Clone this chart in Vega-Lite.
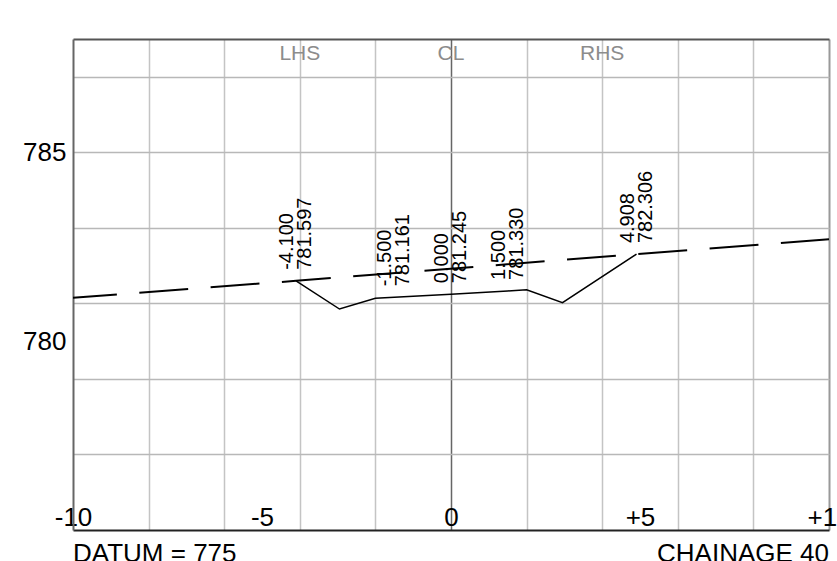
{
  "$schema": "https://vega.github.io/schema/vega-lite/v6.json",
  "width": 756,
  "height": 491,
  "autosize": {"type": "none"},
  "padding": {"left": 73, "top": 39, "right": 8, "bottom": 31},
  "background": "white",
  "config": {"font": "Liberation Sans", "view": {"stroke": null}},
  "datasets": {
    "design": [
      {"x": -4.1, "y": 781.597},
      {"x": -2.95, "y": 780.85},
      {"x": -2.0, "y": 781.133},
      {"x": -1.5, "y": 781.161},
      {"x": 0.0, "y": 781.245},
      {"x": 1.5, "y": 781.33},
      {"x": 2.0, "y": 781.358},
      {"x": 2.95, "y": 781.02},
      {"x": 4.908, "y": 782.306}
    ],
    "ground": [
      {"x": -10, "y": 781.15},
      {"x": -4.1, "y": 781.597},
      {"x": 4.908, "y": 782.306},
      {"x": 10, "y": 782.7}
    ],
    "labels": [
      {"x": -4.1, "y": 781.597, "t": "-4.100\n781.597"},
      {"x": -1.5, "y": 781.161, "t": "-1.500\n781.161"},
      {"x": 0.0, "y": 781.245, "t": "0.000\n781.245"},
      {"x": 1.5, "y": 781.33, "t": "1.500\n781.330"},
      {"x": 4.908, "y": 782.306, "t": "4.908\n782.306"}
    ],
    "tops": [
      {"x": -4, "y": 788, "t": "LHS"},
      {"x": 0, "y": 788, "t": "CL"},
      {"x": 4, "y": 788, "t": "RHS"}
    ]
  },
  "encoding": {
    "x": {
      "field": "x", "type": "quantitative",
      "scale": {"domain": [-10, 10], "nice": false, "zero": false},
      "axis": {
        "title": null,
        "values": [-10, -8, -6, -5, -4, -2, 0, 2, 4, 5, 6, 8, 10],
        "ticks": false, "tickSize": 0,
        "labelExpr": "datum.value % 5 == 0 ? (datum.value > 0 ? '+' + datum.value : '' + datum.value) : ''",
        "labelFontSize": 26, "labelColor": "#000000", "labelPadding": -5,
        "labelBaseline": "alphabetic", "labelFlush": false, "labelOverlap": false, "labelBound": false,
        "domainColor": "#222222", "domainWidth": 2,
        "grid": true,
        "gridColor": {"condition": [{"test": "datum.value == 0", "value": "#666666"}, {"test": "datum.value == 10", "value": "#999999"}], "value": "#c4c4c4"},
        "gridOpacity": {"condition": {"test": "datum.value == 5 || datum.value == -5 || datum.value == -10", "value": 0}, "value": 1},
        "gridWidth": {"condition": {"test": "datum.value == 10", "value": 2}, "value": 1.5}
      }
    },
    "y": {
      "field": "y", "type": "quantitative",
      "scale": {"domain": [775, 788], "nice": false, "zero": false},
      "axis": {
        "title": null,
        "values": [775, 777, 779, 780, 781, 783, 785, 787, 788],
        "ticks": false, "tickSize": 0,
        "labelExpr": "datum.value == 780 || datum.value == 785 ? '' + datum.value : ''",
        "labelFontSize": 26, "labelColor": "#000000", "labelPadding": 7,
        "labelOverlap": false, "labelBound": false, "labelFlush": false,
        "domainColor": "#666666", "domainWidth": 2,
        "grid": true,
        "gridColor": {"condition": {"test": "datum.value == 788", "value": "#555555"}, "value": "#b8b8b8"},
        "gridOpacity": {"condition": {"test": "datum.value == 780 || datum.value == 775", "value": 0}, "value": 1},
        "gridWidth": {"condition": {"test": "datum.value == 788", "value": 2}, "value": 1.5}
      }
    }
  },
  "layer": [
    {
      "data": {"name": "ground"},
      "mark": {"type": "line", "color": "#000000", "strokeWidth": 2, "strokeDash": [49, 22.5], "strokeDashOffset": 5, "clip": true}
    },
    {
      "data": {"name": "design"},
      "mark": {"type": "line", "color": "#000000", "strokeWidth": 1.5}
    },
    {
      "data": {"name": "labels"},
      "mark": {"type": "text", "angle": 270, "align": "left", "baseline": "middle", "dx": 11, "dy": -9, "fontSize": 20, "lineBreak": "\n", "lineHeight": 18, "color": "#000000"},
      "encoding": {"text": {"field": "t", "type": "nominal"}}
    },
    {
      "data": {"name": "tops"},
      "mark": {"type": "text", "align": "center", "baseline": "middle", "dy": 15, "fontSize": 21, "color": "#8c8c8c"},
      "encoding": {"text": {"field": "t", "type": "nominal"}}
    },
    {
      "data": {"values": [{"x": -10, "y": 775, "t": "DATUM = 775"}]},
      "mark": {"type": "text", "align": "left", "baseline": "top", "dy": 11, "fontSize": 26, "color": "#000000", "clip": false},
      "encoding": {"text": {"field": "t", "type": "nominal"}}
    },
    {
      "data": {"values": [{"x": 10, "y": 775, "t": "CHAINAGE 40"}]},
      "mark": {"type": "text", "align": "right", "baseline": "top", "dy": 11, "fontSize": 26, "color": "#000000", "clip": false},
      "encoding": {"text": {"field": "t", "type": "nominal"}}
    }
  ]
}
